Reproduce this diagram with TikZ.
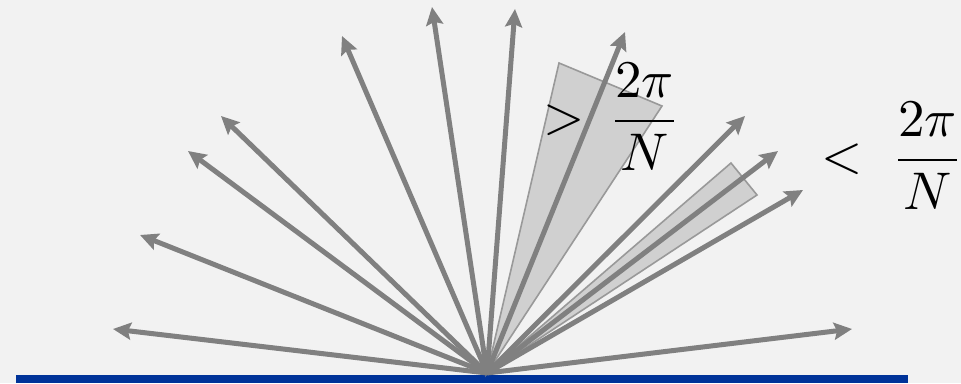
\documentclass[tikz,border=0pt]{standalone}
\usepackage{amsmath}
\usetikzlibrary{arrows.meta}

\definecolor{bgray}{HTML}{F2F2F2}
\definecolor{raygray}{HTML}{808080}
\definecolor{wedgefill}{HTML}{D0D0D0}
\definecolor{wedgeline}{HTML}{999999}
\definecolor{barblue}{HTML}{003399}

\tikzset{
  ray/.style={raygray, line width=5pt, -{Stealth[length=18pt,width=17pt,inset=3pt]}},
  wedge/.style={fill=wedgefill, draw=wedgeline, line width=1.6pt, line join=miter},
  biglabel/.style={scale=5.3, inner sep=0pt}
}

\begin{document}
\begin{tikzpicture}[x=1pt, y=1pt]

% Background
\fill[bgray] (0,0) rectangle (961,383);
\useasboundingbox (0,0) rectangle (961,383);

% Surface
\fill[barblue] (16,0) rectangle (908,8);

% Source point
\coordinate (o) at (487,10);

% Wedges
\coordinate (w1a) at (559,320);
\coordinate (w1b) at (662,277);
\coordinate (w2a) at (731,220);
\coordinate (w2b) at (757,188);
\draw[wedge] (o) -- (w1a) -- (w1b) -- cycle;
\draw[wedge] (o) -- (w2a) -- (w2b) -- cycle;

% Rays
\foreach \x/\y [count=\i] in {113/54, 140/148, 188/232, 221/267, 342/347, 432/376,
                              515/374, 625/351, 745/267, 778/232, 803/193, 852/54}{
  \coordinate (t\i) at (\x,\y);
  \draw[ray] (o) -- (t\i);
}

% Labels
\node[biglabel] (gt) at (612,266) {$>\,\dfrac{2\pi}{N}$};
\node[biglabel, anchor=west] (lt) at (820,227) {$<\;\dfrac{2\pi}{N}$};

\end{tikzpicture}
\end{document}
